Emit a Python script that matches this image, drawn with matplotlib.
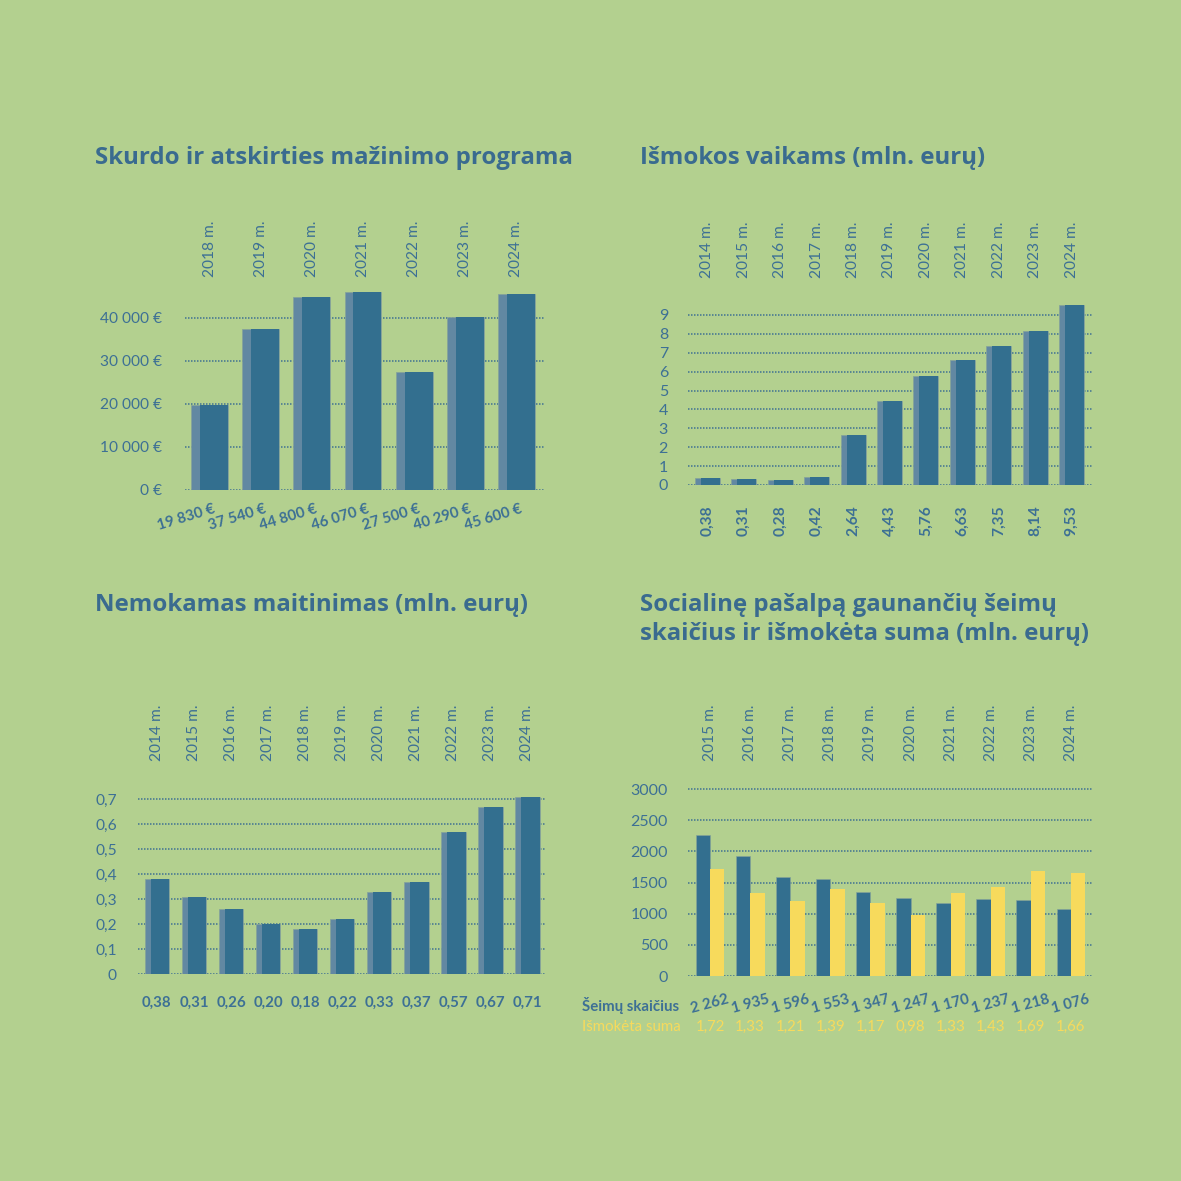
import matplotlib
matplotlib.use('Agg')
import matplotlib.pyplot as plt
import numpy as np

# colours
BG = '#b3d08f'
BAR = '#336f8f'
STRIPE = '#6288a2'
EDGE = '#86a39a'
YELLOW = '#f7da5c'
TEXT = '#3d7095'
TITLE = '#3a6b8f'
GRID = '#3d6f92'

# data
skurdo_years = ['2018 m.', '2019 m.', '2020 m.', '2021 m.', '2022 m.', '2023 m.', '2024 m.']
skurdo_vals = [19830, 37540, 44800, 46070, 27500, 40290, 45600]

vaikai_years = ['2014 m.', '2015 m.', '2016 m.', '2017 m.', '2018 m.', '2019 m.',
                '2020 m.', '2021 m.', '2022 m.', '2023 m.', '2024 m.']
vaikai_vals = [0.38, 0.31, 0.28, 0.42, 2.64, 4.43, 5.76, 6.63, 7.35, 8.14, 9.53]

maist_years = vaikai_years
maist_vals = [0.38, 0.31, 0.26, 0.20, 0.18, 0.22, 0.33, 0.37, 0.57, 0.67, 0.71]

soc_years = ['2015 m.', '2016 m.', '2017 m.', '2018 m.', '2019 m.',
             '2020 m.', '2021 m.', '2022 m.', '2023 m.', '2024 m.']
soc_seimos = [2262, 1935, 1596, 1553, 1347, 1247, 1170, 1237, 1218, 1076]
soc_suma = [1.72, 1.33, 1.21, 1.39, 1.17, 0.98, 1.33, 1.43, 1.69, 1.66]

plt.rcParams['font.family'] = ['Lato', 'DejaVu Sans']
TITLE_FONT = ['Open Sans', 'DejaVu Sans']

W = H = 1181
fig = plt.figure(figsize=(W / 72, H / 72), dpi=72)
fig.patch.set_facecolor(BG)


def px_axes(l, r, b, t):
    ax = fig.add_axes([l / W, 1 - b / H, (r - l) / W, (b - t) / H])
    ax.set_facecolor('none')
    for s in ax.spines.values():
        s.set_visible(False)
    ax.tick_params(length=0, labelcolor=TEXT, labelsize=15.5)
    ax.set_xticks([])
    ax.yaxis.grid(True, linestyle=(0, (1, 1)), lw=1.5, color=GRID)
    ax.set_axisbelow(True)
    return ax


def striped(ax, x, vals, w):
    ax.bar(x, vals, width=w, color=STRIPE, edgecolor=EDGE, lw=0.8, zorder=2)
    ax.bar(x + w * 0.12, vals, width=w * 0.76, color=BAR, zorder=3)


def years_on_top(ax, years, up):
    for i, yr in enumerate(years):
        ax.annotate(yr, xy=(i, 0), xytext=(0, up), textcoords='offset points',
                    rotation=90, ha='center', va='bottom', fontsize=15.5, color=TEXT)


def title(x, y, s):
    fig.text(x / W, 1 - y / H, s, fontsize=24, fontweight='bold', color=TITLE,
             va='center', family=TITLE_FONT)


def fmt_num(v):
    return f'{v:,}'.replace(',', ' ')


def fmt_dec(v):
    return f'{v:.2f}'.replace('.', ',')


# --- Skurdo ir atskirties mažinimo programa ---
ax1 = px_axes(185, 545, 490, 285)
x1 = np.arange(len(skurdo_vals))
striped(ax1, x1, skurdo_vals, 0.72)
ax1.set_xlim(-0.48, 6.56)
ax1.set_ylim(0, 47674)
ax1.set_yticks([0, 10000, 20000, 30000, 40000])
ax1.set_yticklabels([fmt_num(v) + ' €' for v in [0, 10000, 20000, 30000, 40000]])
ax1.tick_params(axis='y', pad=23)
years_on_top(ax1, skurdo_years, 213)
for i, v in enumerate(skurdo_vals):
    ax1.annotate(fmt_num(v) + ' €', xy=(i, 0), xytext=(6.5, -23), textcoords='offset points',
                 rotation=17, ha='right', va='baseline', rotation_mode='anchor',
                 fontsize=15, fontweight='bold', color=TEXT)
title(95, 158, 'Skurdo ir atskirties mažinimo programa')

# --- Išmokos vaikams ---
ax2 = px_axes(688, 1093, 485, 300)
x2 = np.arange(len(vaikai_vals))
striped(ax2, x2, vaikai_vals, 0.69)
ax2.set_xlim(-0.535, 10.59)
ax2.set_ylim(0, 9.79)
ax2.set_yticks(range(10))
ax2.tick_params(axis='y', pad=20, labelsize=16)
years_on_top(ax2, vaikai_years, 207)
for i, v in enumerate(vaikai_vals):
    ax2.annotate(fmt_dec(v), xy=(i, 0), xytext=(0, -20), textcoords='offset points',
                 rotation=90, ha='center', va='top', fontsize=15.5, fontweight='bold', color=TEXT)
title(640, 158, 'Išmokos vaikams (mln. eurų)')

# --- Nemokamas maitinimas ---
ax3 = px_axes(138, 546, 974, 790)
x3 = np.arange(len(maist_vals))
striped(ax3, x3, maist_vals, 0.66)
ax3.set_xlim(-0.51, 10.5)
ax3.set_ylim(0, 0.736)
t3 = [0, 0.1, 0.2, 0.3, 0.4, 0.5, 0.6, 0.7]
ax3.set_yticks(t3)
ax3.set_yticklabels(['0'] + [f'{v:.1f}'.replace('.', ',') for v in t3[1:]])
ax3.tick_params(axis='y', pad=21)
years_on_top(ax3, maist_years, 213)
for i, v in enumerate(maist_vals):
    ax3.annotate(fmt_dec(v), xy=(i, 0), xytext=(0, -29), textcoords='offset points',
                 ha='center', va='center', fontsize=15, fontweight='bold', color=TEXT)
title(95, 605, 'Nemokamas maitinimas (mln. eurų)')

# --- Socialinė pašalpa ---
ax4 = px_axes(688, 1093, 976, 780)
x4 = np.arange(len(soc_seimos))
ax4.bar(x4 - 0.18, soc_seimos, width=0.36, color=BAR, edgecolor=EDGE, lw=0.6, zorder=2)
ax4.bar(x4 + 0.18, np.array(soc_suma) * 1000, width=0.36, color=YELLOW, zorder=2)
ax4.set_xlim(-0.55, 9.55)
ax4.set_ylim(0, 3148)
ax4.set_yticks(range(0, 3001, 500))
ax4.tick_params(axis='y', pad=20, labelsize=16)
years_on_top(ax4, soc_years, 215)
for i, v in enumerate(soc_seimos):
    ax4.annotate(fmt_num(v), xy=(i, 0), xytext=(0, -28), textcoords='offset points',
                 rotation=15, ha='center', va='center', rotation_mode='anchor',
                 fontsize=15, fontweight='bold', color=TEXT)
for i, v in enumerate(soc_suma):
    ax4.annotate(fmt_dec(v), xy=(i, 0), xytext=(0, -51), textcoords='offset points',
                 ha='center', va='center', fontsize=15, color=YELLOW)
fig.text(582 / W, 1 - 1005 / H, 'Šeimų skaičius', fontsize=15, fontweight='bold',
         color=TEXT, va='center')
fig.text(582 / W, 1 - 1027 / H, 'Išmokėta suma', fontsize=15, color=YELLOW, va='center')
title(640, 605, 'Socialinę pašalpą gaunančių šeimų')
title(640, 634, 'skaičius ir išmokėta suma (mln. eurų)')

fig.savefig('out.png', dpi=72, facecolor=BG)
